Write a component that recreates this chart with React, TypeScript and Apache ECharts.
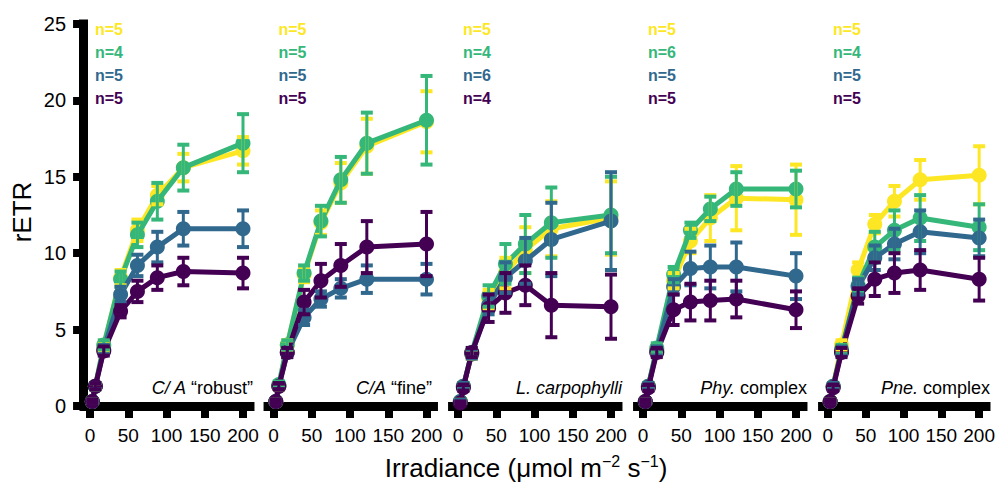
import React, { useEffect, useRef } from "react";
import * as echarts from "echarts";

const irradiance = [3, 7, 18, 40, 62, 88, 122, 200];
const xTicks = [0, 50, 100, 150, 200];
const yTicks = [0, 5, 10, 15, 20, 25];

const groupColors = ["#fde725", "#35b779", "#31688e", "#440154"];

const panelTitles = [
  "{i|C/ A} “robust”",
  "{i|C/A} “fine”",
  "{i|L. carpophylli}",
  "{i|Phy.} complex",
  "{i|Pne.} complex",
];

const nCounts = [
  [5, 4, 5, 5],
  [5, 5, 5, 5],
  [5, 4, 6, 4],
  [5, 6, 5, 5],
  [5, 4, 5, 5],
];

// Panel 1: C/A "robust"
const p1Yellow = [0.3, 1.3, 3.9, 8.4, 11.5, 13.8, 15.6, 16.7];
const p1YellowErr = [0.1, 0.2, 0.3, 0.5, 0.7, 0.6, 0.9, 0.9];
const p1Green = [0.3, 1.3, 4.0, 8.3, 11.2, 13.4, 15.6, 17.2];
const p1GreenErr = [0.1, 0.2, 0.3, 0.5, 0.8, 1.2, 1.5, 1.9];
const p1Blue = [0.3, 1.3, 3.7, 7.3, 9.2, 10.4, 11.6, 11.6];
const p1BlueErr = [0.1, 0.2, 0.3, 0.5, 0.7, 1.0, 1.1, 1.2];
const p1Purple = [0.3, 1.3, 3.6, 6.2, 7.5, 8.4, 8.8, 8.7];
const p1PurpleErr = [0.1, 0.2, 0.3, 0.4, 0.7, 0.8, 0.9, 1.0];

// Panel 2: C/A "fine"
const p2Yellow = [0.3, 1.3, 4.0, 8.6, 12.0, 14.6, 17.0, 18.6];
const p2YellowErr = [0.1, 0.2, 0.3, 0.5, 0.8, 1.3, 1.8, 2.0];
const p2Green = [0.3, 1.4, 4.0, 8.7, 12.1, 14.8, 17.2, 18.7];
const p2GreenErr = [0.1, 0.2, 0.3, 0.5, 1.0, 1.5, 2.0, 2.9];
const p2Blue = [0.3, 1.3, 3.5, 5.8, 7.0, 7.7, 8.3, 8.3];
const p2BlueErr = [0.1, 0.2, 0.3, 0.5, 0.5, 0.6, 0.9, 1.0];
const p2Purple = [0.3, 1.3, 3.5, 6.8, 8.2, 9.2, 10.4, 10.6];
const p2PurpleErr = [0.1, 0.2, 0.3, 0.8, 1.1, 1.4, 1.7, 2.1];

// Panel 3: L. carpophylli
const p3Yellow = [0.3, 1.3, 3.4, 7.0, 8.7, 10.2, 11.6, 12.3];
const p3YellowErr = [0.1, 0.2, 0.3, 0.6, 1.0, 1.5, 1.8, 2.4];
const p3Green = [0.3, 1.3, 3.5, 7.2, 9.3, 10.6, 12.0, 12.5];
const p3GreenErr = [0.1, 0.2, 0.3, 0.7, 1.3, 1.9, 2.3, 2.5];
const p3Blue = [0.3, 1.3, 3.4, 6.6, 8.4, 9.5, 10.9, 12.1];
const p3BlueErr = [0.1, 0.2, 0.3, 0.6, 1.0, 1.5, 2.4, 3.2];
const p3Purple = [0.2, 1.2, 3.5, 6.4, 7.4, 7.9, 6.6, 6.5];
const p3PurpleErr = [0.1, 0.2, 0.3, 0.9, 1.3, 1.3, 2.1, 2.1];

// Panel 4: Phy. complex
const p4Yellow = [0.3, 1.3, 3.7, 8.2, 10.8, 12.3, 13.6, 13.5];
const p4YellowErr = [0.1, 0.2, 0.3, 0.5, 0.8, 1.5, 2.1, 2.3];
const p4Green = [0.3, 1.3, 3.8, 8.6, 11.5, 12.9, 14.2, 14.2];
const p4GreenErr = [0.1, 0.2, 0.3, 0.5, 0.5, 0.8, 1.1, 1.2];
const p4Blue = [0.3, 1.3, 3.6, 7.8, 9.0, 9.1, 9.1, 8.5];
const p4BlueErr = [0.1, 0.2, 0.3, 0.5, 1.1, 1.4, 1.6, 1.5];
const p4Purple = [0.3, 1.2, 3.5, 6.3, 6.8, 6.9, 7.0, 6.3];
const p4PurpleErr = [0.1, 0.2, 0.3, 1.0, 1.2, 1.3, 1.2, 1.2];

// Panel 5: Pne. complex
const p5Yellow = [0.3, 1.3, 4.0, 8.9, 11.9, 13.4, 14.8, 15.1];
const p5YellowErr = [0.1, 0.2, 0.3, 0.5, 0.6, 1.0, 1.3, 1.9];
const p5Green = [0.3, 1.3, 3.7, 7.9, 10.4, 11.5, 12.3, 11.7];
const p5GreenErr = [0.1, 0.2, 0.3, 0.5, 1.0, 1.3, 1.5, 1.5];
const p5Blue = [0.3, 1.3, 3.6, 7.8, 9.7, 10.6, 11.4, 11.0];
const p5BlueErr = [0.1, 0.2, 0.3, 0.5, 0.8, 1.0, 1.4, 1.2];
const p5Purple = [0.3, 1.2, 3.5, 7.2, 8.3, 8.7, 8.9, 8.3];
const p5PurpleErr = [0.1, 0.2, 0.3, 0.5, 1.1, 1.3, 1.3, 1.4];

const panels = [
  { means: [p1Yellow, p1Green, p1Blue, p1Purple], errs: [p1YellowErr, p1GreenErr, p1BlueErr, p1PurpleErr] },
  { means: [p2Yellow, p2Green, p2Blue, p2Purple], errs: [p2YellowErr, p2GreenErr, p2BlueErr, p2PurpleErr] },
  { means: [p3Yellow, p3Green, p3Blue, p3Purple], errs: [p3YellowErr, p3GreenErr, p3BlueErr, p3PurpleErr] },
  { means: [p4Yellow, p4Green, p4Blue, p4Purple], errs: [p4YellowErr, p4GreenErr, p4BlueErr, p4PurpleErr] },
  { means: [p5Yellow, p5Green, p5Blue, p5Purple], errs: [p5YellowErr, p5GreenErr, p5BlueErr, p5PurpleErr] },
];

const FONT = "'Liberation Sans', 'DejaVu Sans', sans-serif";

export default function App() {
  const ref = useRef<HTMLDivElement>(null);

  useEffect(() => {
    if (!ref.current) return;
    const chart = echarts.init(ref.current, undefined, { renderer: "svg" });

    const XMIN = -13;
    const XMAX = 215;
    const pxPerUnit = 0.765;
    const gridW = (XMAX - XMIN) * pxPerUnit;
    const zeroX = [90, 273.5, 458, 643, 828];
    const titleRight = [253, 432, 622, 807, 990];

    const grids: any[] = [];
    const xAxes: any[] = [];
    const yAxes: any[] = [];
    const series: any[] = [];
    const graphics: any[] = [];

    panels.forEach((panel, pi) => {
      const left = zeroX[pi] + XMIN * pxPerUnit;
      grids.push({ left, top: 24, width: gridW, height: 382 });
      xAxes.push({
        type: "value",
        gridIndex: pi,
        min: XMIN,
        max: XMAX,
        splitLine: { show: false },
        axisLine: { show: true, onZero: false, lineStyle: { color: "#000", width: 9, cap: "butt" } },
        axisTick: {
          show: true,
          customValues: xTicks,
          length: 12,
          lineStyle: { color: "#000", width: 8, cap: "butt" },
        },
        axisLabel: {
          customValues: xTicks,
          color: "#000",
          fontSize: 19,
          fontFamily: FONT,
          margin: 20,
          showMinLabel: true,
          showMaxLabel: true,
          hideOverlap: false,
        },
      });
      yAxes.push({
        type: "value",
        gridIndex: pi,
        min: 0,
        max: 25,
        interval: 5,
        show: pi === 0,
        offset: -3,
        splitLine: { show: false },
        axisLine: { show: true, onZero: false, lineStyle: { color: "#000", width: 9, cap: "square" } },
        axisTick: { show: true, length: 10, lineStyle: { color: "#000", width: 8, cap: "butt" } },
        axisLabel: {
          color: "#000",
          fontSize: 20,
          fontFamily: FONT,
          margin: 17,
          customValues: yTicks,
        },
      });

      panel.means.forEach((vals, gi) => {
        series.push({
          type: "line",
          xAxisIndex: pi,
          yAxisIndex: pi,
          data: irradiance.map((x, k) => [x, vals[k]]),
          symbol: "circle",
          symbolSize: 15,
          itemStyle: { color: groupColors[gi] },
          lineStyle: { color: groupColors[gi], width: 5 },
          z: 2 + gi,
          silent: true,
        });
      });

      panel.means.forEach((vals, gi) => {
        const errs = panel.errs[gi];
        const color = groupColors[gi];
        series.push({
          type: "custom",
          xAxisIndex: pi,
          yAxisIndex: pi,
          z: 10 + gi,
          silent: true,
          data: irradiance.map((x, k) => [x, vals[k] - errs[k], vals[k] + errs[k]]),
          encode: { x: 0, y: [1, 2] },
          renderItem: (params: any, api: any) => {
            const x = api.value(0);
            const lo = api.value(1);
            const hi = api.value(2);
            const pTop = api.coord([x, hi]);
            const pBot = api.coord([x, lo]);
            const hw = 6;
            return {
              type: "group",
              children: [
                {
                  type: "line",
                  shape: { x1: pTop[0], y1: pTop[1], x2: pBot[0], y2: pBot[1] },
                  style: { stroke: color, lineWidth: 3 },
                },
                {
                  type: "line",
                  shape: { x1: pTop[0] - hw, y1: pTop[1], x2: pTop[0] + hw, y2: pTop[1] },
                  style: { stroke: color, lineWidth: 4 },
                },
                {
                  type: "line",
                  shape: { x1: pBot[0] - hw, y1: pBot[1], x2: pBot[0] + hw, y2: pBot[1] },
                  style: { stroke: color, lineWidth: 4 },
                },
              ],
            };
          },
        });
      });

      nCounts[pi].forEach((n, gi) => {
        graphics.push({
          type: "text",
          x: zeroX[pi] + 5,
          y: 29 + gi * 23.3,
          style: {
            text: "n=" + n,
            fill: groupColors[gi],
            font: `bold 16px ${FONT}`,
            align: "left",
            verticalAlign: "middle",
          },
          z: 50,
        });
      });

      graphics.push({
        type: "text",
        x: titleRight[pi],
        y: 388,
        style: {
          text: panelTitles[pi],
          fill: "#000",
          font: `18px ${FONT}`,
          align: "right",
          verticalAlign: "middle",
          rich: {
            i: { fontStyle: "italic", fontSize: 18, fontFamily: FONT, fill: "#000" },
          },
        },
        z: 50,
      });
    });

    graphics.push({
      type: "text",
      x: 22,
      y: 212,
      rotation: Math.PI / 2,
      style: {
        text: "rETR",
        fill: "#000",
        font: `26px ${FONT}`,
        align: "center",
        verticalAlign: "middle",
      },
    });

    graphics.push({
      type: "text",
      x: 526,
      y: 468,
      style: {
        text: "Irradiance (μmol m{s|−2} s{s|−1})",
        fill: "#000",
        font: `26px ${FONT}`,
        align: "center",
        verticalAlign: "middle",
        rich: {
          s: { fontSize: 16, fontFamily: FONT, fill: "#000", verticalAlign: "top", padding: [0, 0, 14, 0] },
        },
      },
    });

    chart.setOption({
      animation: false,
      backgroundColor: "#fff",
      grid: grids,
      xAxis: xAxes,
      yAxis: yAxes,
      series,
      graphic: graphics,
    });

    return () => chart.dispose();
  }, []);

  return (
    <div
      ref={ref}
      style={{ position: "fixed", left: 0, top: 0, width: 998, height: 485 }}
    />
  );
}
